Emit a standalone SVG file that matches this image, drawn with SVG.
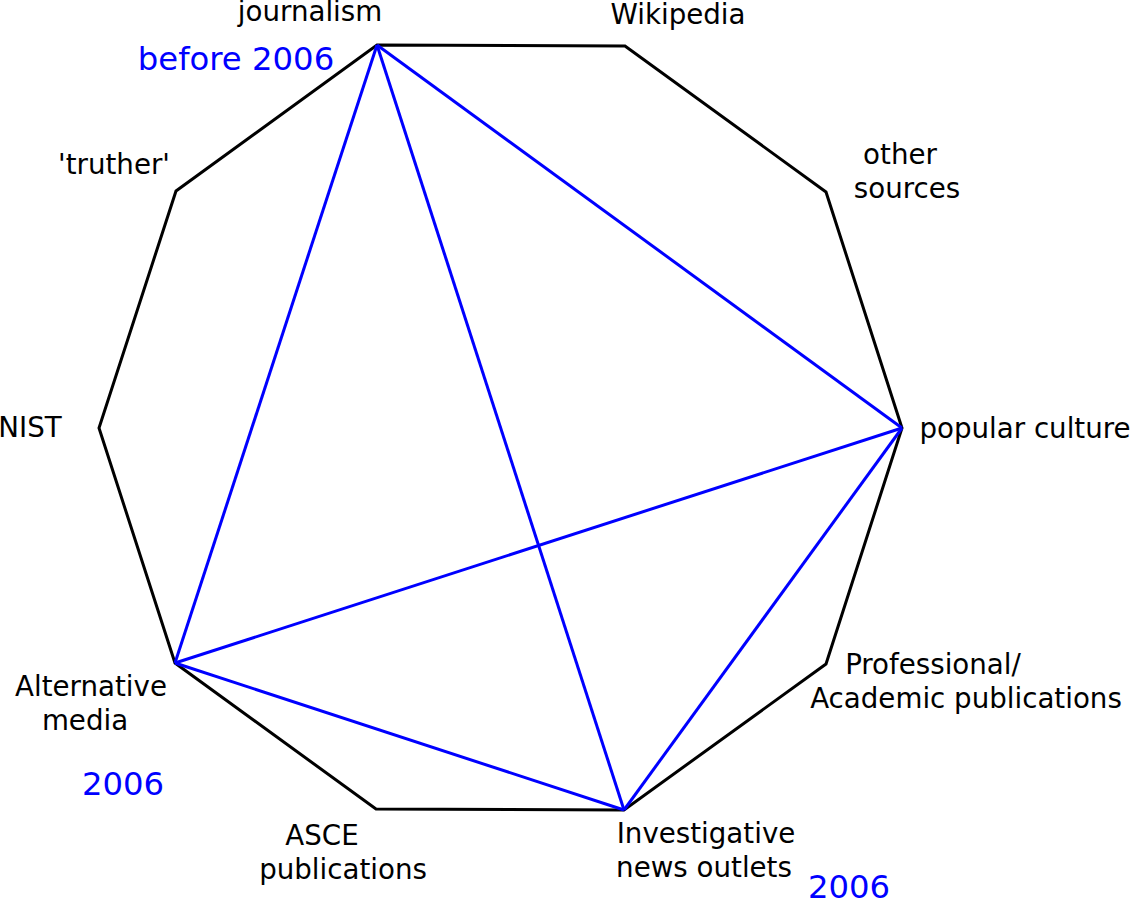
<svg xmlns="http://www.w3.org/2000/svg" width="1130" height="900" viewBox="0 0 1130 900">
<style>
.lbl{font-family:"DejaVu Sans",sans-serif;font-size:27.7px;fill:#000;text-anchor:middle}
.yr{font-family:"DejaVu Sans",sans-serif;font-size:32.3px;fill:#0000ff;text-anchor:middle}
.edge{stroke:#000;stroke-width:3;fill:none}
.rel{stroke:#0000ff;stroke-width:3;fill:none}
</style>
<rect width="1130" height="900" fill="#fff"/>
<g id="connectors">
<polygon class="edge" points="377,45 625,46 826,192 902,428 826,664 624,810 376,809 175,663 99,428 176,191"/>
<line class="rel" x1="377" y1="45" x2="902" y2="428"/>
<line class="rel" x1="377" y1="45" x2="175" y2="663"/>
<line class="rel" x1="377" y1="45" x2="624" y2="810"/>
<line class="rel" x1="902" y1="428" x2="175" y2="663"/>
<line class="rel" x1="902" y1="428" x2="624" y2="810"/>
<line class="rel" x1="175" y1="663" x2="624" y2="810"/>
</g>
<g id="journalism"><text class="lbl" x="310" y="21">journalism</text></g>
<g id="wikipedia"><text class="lbl" x="678" y="24">Wikipedia</text></g>
<g id="other-sources"><text class="lbl" x="900" y="164">other</text><text class="lbl" x="907" y="198">sources</text></g>
<g id="popular-culture"><text class="lbl" x="1025" y="438">popular culture</text></g>
<g id="professional"><text class="lbl" x="933" y="674">Professional/</text><text class="lbl" x="966" y="708">Academic publications</text></g>
<g id="investigative"><text class="lbl" x="706" y="843">Investigative</text><text class="lbl" x="704" y="877">news outlets</text></g>
<g id="asce"><text class="lbl" x="322" y="845">ASCE</text><text class="lbl" x="343" y="879">publications</text></g>
<g id="alternative-media"><text class="lbl" x="91" y="696">Alternative</text><text class="lbl" x="85" y="730">media</text></g>
<g id="nist"><text class="lbl" x="30" y="437">NIST</text></g>
<g id="truther"><text class="lbl" x="114" y="174">'truther'</text></g>
<g id="years">
<text class="yr" x="236" y="70">before 2006</text>
<text class="yr" x="123" y="795">2006</text>
<text class="yr" x="849" y="898">2006</text>
</g>
</svg>
